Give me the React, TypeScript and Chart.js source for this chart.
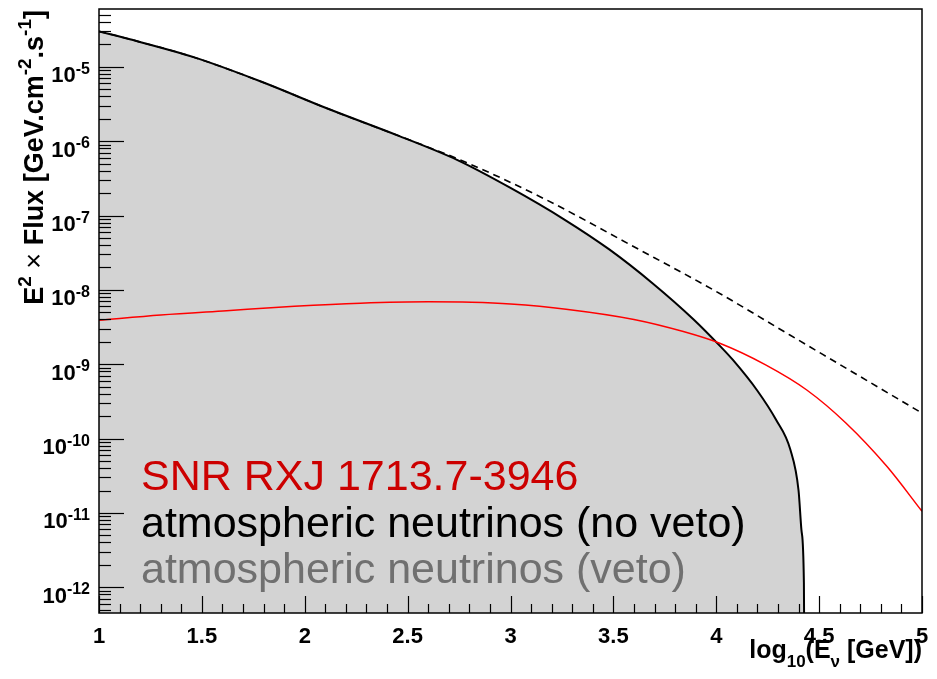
import React, { useEffect, useRef } from "react";
import { Chart, registerables } from "chart.js";

Chart.register(...registerables);

// log10(E_nu / GeV) and E^2 x flux [GeV cm^-2 s^-1]
const energyVeto = [1.0, 1.15, 1.46, 1.79, 2.11, 2.46, 2.74, 3.0, 3.26, 3.48, 3.69, 3.89, 4.02, 4.08, 4.2, 4.29, 4.36, 4.4, 4.414, 4.426, 4.43];
const fluxVeto = [3.0e-5, 2.35e-5, 1.35e-5, 6.3e-6, 2.75e-6, 1.17e-6, 5.6e-7, 2.35e-7, 8.9e-8, 3.5e-8, 1.23e-8, 4.0e-9, 1.74e-9, 1.15e-9, 4.4e-10, 1.8e-10, 7.1e-11, 2.0e-11, 5.9e-12, 1.15e-12, 1e-14];

const energyNoVeto = [1.0, 1.15, 1.46, 1.79, 2.11, 2.46, 2.78, 3.16, 3.6, 4.0, 4.36, 5.0];
const fluxNoVeto = [3.0e-5, 2.35e-5, 1.35e-5, 6.3e-6, 2.75e-6, 1.17e-6, 5.25e-7, 1.7e-7, 3.8e-8, 9.5e-9, 2.45e-9, 2.2e-10];

const energySnr = [1.0, 1.3, 1.62, 1.95, 2.27, 2.6, 2.81, 3.0, 3.27, 3.6, 3.84, 4.02, 4.24, 4.44, 4.63, 4.83, 5.0];
const fluxSnr = [3.9e-9, 4.6e-9, 5.25e-9, 6.0e-9, 6.6e-9, 6.9e-9, 6.8e-9, 6.45e-9, 5.5e-9, 4.0e-9, 2.75e-9, 1.9e-9, 9.8e-10, 4.5e-10, 1.62e-10, 4.2e-11, 1.05e-11];

const xTickValues = [1, 1.5, 2, 2.5, 3, 3.5, 4, 4.5, 5];
const xTickLabels = ["1", "1.5", "2", "2.5", "3", "3.5", "4", "4.5", "5"];
const yDecades = [-12, -11, -10, -9, -8, -7, -6, -5];

const legendTexts = ["SNR RXJ 1713.7-3946", "atmospheric neutrinos (no veto)", "atmospheric neutrinos (veto)"];
const legendColors = ["#cc0000", "#000000", "#707070"];

const X_MIN = 1;
const X_MAX = 5;
const Y_MIN = 4.5e-13;
const Y_MAX = 6.0e-5;
const X_MINOR_STEP = 0.1;

const FONT = "'Liberation Sans', Arial, Helvetica, sans-serif";
const LEGEND_FONT = "'Liberation Sans', Arial, sans-serif";

type Run = { text: string; size: number; weight?: string; shift?: number; family?: string };

function runFont(r: Run) {
  return `${r.weight ?? "bold"} ${r.size}px ${r.family ?? FONT}`;
}

function runsWidth(ctx: CanvasRenderingContext2D, runs: Run[]) {
  let w = 0;
  for (const r of runs) {
    ctx.font = runFont(r);
    w += ctx.measureText(r.text).width;
  }
  return w;
}

function drawRuns(ctx: CanvasRenderingContext2D, runs: Run[], x: number, y: number, align: "left" | "right" | "center") {
  const w = runsWidth(ctx, runs);
  let cx = align === "right" ? x - w : align === "center" ? x - w / 2 : x;
  ctx.textAlign = "left";
  ctx.textBaseline = "alphabetic";
  for (const r of runs) {
    ctx.font = runFont(r);
    ctx.fillText(r.text, cx, y + (r.shift ?? 0));
    cx += ctx.measureText(r.text).width;
  }
}

function toPoints(xs: number[], ys: number[]) {
  return xs.map((x, i) => ({ x, y: ys[i] }));
}

const rootFramePlugin = {
  id: "rootFrame",
  afterDatasetsDraw(chart: any) {
    const { ctx, chartArea: a, scales } = chart;
    const xs = scales.x;
    const ys = scales.y;
    ctx.save();
    ctx.strokeStyle = "#000";
    ctx.fillStyle = "#000";

    // frame
    ctx.lineWidth = 1.5;
    ctx.strokeRect(a.left, a.top, a.right - a.left, a.bottom - a.top);

    // y ticks (inside, left)
    ctx.lineWidth = 1.2;
    for (let d = -13; d <= -5; d++) {
      for (let k = 1; k <= 9; k++) {
        const v = k * Math.pow(10, d);
        if (v < Y_MIN || v > Y_MAX) continue;
        const py = Math.round(ys.getPixelForValue(v)) + 0.5;
        const len = k === 1 ? 25 : 12;
        ctx.beginPath();
        ctx.moveTo(a.left, py);
        ctx.lineTo(a.left + len, py);
        ctx.stroke();
      }
    }

    // x ticks (inside, bottom)
    const nMinor = Math.round((X_MAX - X_MIN) / X_MINOR_STEP);
    for (let i = 0; i <= nMinor; i++) {
      const v = X_MIN + i * X_MINOR_STEP;
      const px = Math.round(xs.getPixelForValue(v)) + 0.5;
      const len = i % 5 === 0 ? 17 : 9;
      ctx.beginPath();
      ctx.moveTo(px, a.bottom);
      ctx.lineTo(px, a.bottom - len);
      ctx.stroke();
    }

    // y tick labels
    for (const d of yDecades) {
      const py = ys.getPixelForValue(Math.pow(10, d));
      drawRuns(ctx, [
        { text: "10", size: 22 },
        { text: String(d), size: 16, shift: -8.5 },
      ], 90, py + 15.5, "right");
    }

    // x tick labels
    xTickValues.forEach((v, i) => {
      const px = xs.getPixelForValue(v);
      drawRuns(ctx, [{ text: xTickLabels[i], size: 22 }], px, 642.5, "center");
    });

    // x title
    drawRuns(ctx, [
      { text: "log", size: 25 },
      { text: "10", size: 17, shift: 9 },
      { text: "(E", size: 25 },
      { text: "\u03bd", size: 17, shift: 9 },
      { text: " [GeV])", size: 25 },
    ], a.right, 658, "right");

    // y title
    ctx.save();
    ctx.translate(43, a.top + 1);
    ctx.rotate(-Math.PI / 2);
    drawRuns(ctx, [
      { text: "E", size: 27 },
      { text: "2", size: 19, shift: -12 },
      { text: " \u00d7 ", size: 27, weight: "normal" },
      { text: "Flux [GeV.cm", size: 27 },
      { text: "-2", size: 19, shift: -12 },
      { text: ".s", size: 27 },
      { text: "-1", size: 19, shift: -12 },
      { text: "]", size: 27 },
    ], 0, 0, "right");
    ctx.restore();

    // legend text
    const baselines = [490, 537, 583];
    legendTexts.forEach((t, i) => {
      ctx.fillStyle = legendColors[i];
      drawRuns(ctx, [{ text: t, size: 43, weight: "normal", family: LEGEND_FONT }], a.left + 42, baselines[i], "left");
    });

    ctx.restore();
  },
};

export default function App() {
  const canvasRef = useRef<HTMLCanvasElement | null>(null);

  useEffect(() => {
    const canvas = canvasRef.current;
    if (!canvas) return;
    const chart = new Chart(canvas, {
      type: "line",
      data: {
        datasets: [
          {
            label: "atmospheric neutrinos (veto)",
            data: toPoints(energyVeto, fluxVeto),
            borderColor: "#000000",
            backgroundColor: "#d3d3d3",
            borderWidth: 2,
            fill: "start",
            pointRadius: 0,
            cubicInterpolationMode: "monotone",
            order: 2,
          },
          {
            label: "atmospheric neutrinos (no veto)",
            data: toPoints(energyNoVeto, fluxNoVeto),
            borderColor: "#000000",
            borderWidth: 1.6,
            borderDash: [7, 5],
            fill: false,
            pointRadius: 0,
            cubicInterpolationMode: "monotone",
            order: 3,
          },
          {
            label: "SNR RXJ 1713.7-3946",
            data: toPoints(energySnr, fluxSnr),
            borderColor: "#ff0000",
            borderWidth: 1.5,
            fill: false,
            pointRadius: 0,
            cubicInterpolationMode: "monotone",
            order: 1,
          },
        ],
      },
      options: {
        animation: false,
        responsive: false,
        devicePixelRatio: 1,
        layout: { padding: { left: 99, right: 15, top: 9, bottom: 66 } },
        scales: {
          x: { type: "linear", min: X_MIN, max: X_MAX, display: false },
          y: { type: "logarithmic", min: Y_MIN, max: Y_MAX, display: false },
        },
        plugins: {
          legend: { display: false },
          tooltip: { enabled: false },
          filler: { drawTime: "beforeDatasetsDraw" },
        },
      } as any,
      plugins: [rootFramePlugin],
    });
    return () => chart.destroy();
  }, []);

  return (
    <div style={{ position: "fixed", left: 0, top: 0, width: 937, height: 679, background: "#fff" }}>
      <canvas ref={canvasRef} width={937} height={679} style={{ display: "block" }} />
    </div>
  );
}
